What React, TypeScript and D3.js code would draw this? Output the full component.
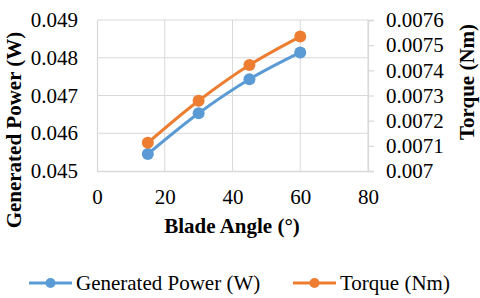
import { useEffect, useRef } from 'react';
import * as d3 from 'd3';

const angles = [15, 30, 45, 60];
const powerValues = [0.04545, 0.04653, 0.04743, 0.04814];
const torqueValues = [0.007112, 0.007279, 0.007421, 0.007534];
const xTicks = [0, 20, 40, 60, 80];
const powerTicks = [0.045, 0.046, 0.047, 0.048, 0.049];
const torqueTicks = [0.007, 0.0071, 0.0072, 0.0073, 0.0074, 0.0075, 0.0076];

const BLUE = '#5B9BD5';
const ORANGE = '#ED7D31';
const GRID = '#D9D9D9';
const FONT = "'Liberation Serif', 'Times New Roman', serif";

const App = () => {
  const ref = useRef<SVGSVGElement | null>(null);

  useEffect(() => {
    const svg = d3.select(ref.current);
    svg.selectAll('*').remove();

    const left = 97, right = 368, top = 20, bottom = 171;

    const x = d3.scaleLinear().domain([0, 80]).range([left, right]);
    const yL = d3.scaleLinear().domain([0.045, 0.049]).range([bottom, top]);
    const yR = d3.scaleLinear().domain([0.007, 0.0076]).range([bottom, top]);

    // gridlines
    svg.append('g')
      .selectAll('line')
      .data(powerTicks.slice(1))
      .enter()
      .append('line')
      .attr('x1', left).attr('x2', right)
      .attr('y1', d => yL(d)).attr('y2', d => yL(d))
      .attr('stroke', GRID).attr('stroke-width', 1);

    svg.append('g')
      .selectAll('line')
      .data(xTicks.slice(1))
      .enter()
      .append('line')
      .attr('x1', d => x(d)).attr('x2', d => x(d))
      .attr('y1', top).attr('y2', bottom)
      .attr('stroke', GRID).attr('stroke-width', 1);

    // left axis
    const gl = svg.append('g')
      .attr('transform', `translate(${left},0)`)
      .call(d3.axisLeft(yL).tickValues(powerTicks).tickSize(0).tickPadding(19).tickFormat(d => String(+d)));

    // right axis
    const gr = svg.append('g')
      .attr('transform', `translate(${right},0)`)
      .call(d3.axisRight(yR).tickValues(torqueTicks).tickSize(6).tickPadding(12).tickFormat(d => String(+(+d).toFixed(4))));

    // bottom axis
    const gb = svg.append('g')
      .attr('transform', `translate(0,${bottom})`)
      .call(d3.axisBottom(x).tickValues(xTicks).tickSize(0).tickPadding(18));

    [gl, gr, gb].forEach(g => {
      g.attr('font-family', null).attr('font-size', null);
      g.selectAll('.domain').attr('stroke', GRID).attr('stroke-width', 1.3);
      g.selectAll('.tick line').attr('stroke', GRID).attr('stroke-width', 1.3);
      g.selectAll('text')
        .style('font-family', FONT)
        .style('font-size', '21px')
        .attr('fill', '#000');
    });

    const line = (vals: number[], y: d3.ScaleLinear<number, number>) =>
      d3.line<number>()
        .x((_, i) => x(angles[i]))
        .y(d => y(d))
        .curve(d3.curveCatmullRom.alpha(0.5))(vals);

    const series = [
      { vals: powerValues, y: yL, color: BLUE },
      { vals: torqueValues, y: yR, color: ORANGE },
    ];

    series.forEach(s => {
      svg.append('path')
        .attr('d', line(s.vals, s.y))
        .attr('fill', 'none')
        .attr('stroke', s.color)
        .attr('stroke-width', 3);
      svg.append('g')
        .selectAll('circle')
        .data(s.vals)
        .enter()
        .append('circle')
        .attr('cx', (_, i) => x(angles[i]))
        .attr('cy', d => s.y(d))
        .attr('r', 6)
        .attr('fill', s.color);
    });

    // axis titles
    const title = (sel: d3.Selection<SVGTextElement, unknown, null, undefined>) =>
      sel.attr('text-anchor', 'middle')
        .style('font-family', FONT)
        .style('font-size', '21px')
        .style('font-weight', 'bold');

    svg.append('text')
      .attr('transform', `translate(21,130) rotate(-90)`)
      .call(title)
      .text('Generated Power (W)');

    svg.append('text')
      .attr('transform', `translate(474,82) rotate(-90)`)
      .call(title)
      .text('Torque (Nm)');

    svg.append('text')
      .attr('x', 232)
      .attr('y', 233)
      .call(title)
      .text('Blade Angle (°)');

    // legend
    const legendItems = [
      { label: 'Generated Power (W)', color: BLUE, x0: 29 },
      { label: 'Torque (Nm)', color: ORANGE, x0: 293 },
    ];
    const lg = svg.append('g')
      .selectAll('g')
      .data(legendItems)
      .enter()
      .append('g')
      .attr('transform', d => `translate(${d.x0},283)`);
    lg.append('line')
      .attr('x1', 0).attr('x2', 43)
      .attr('stroke', d => d.color).attr('stroke-width', 3);
    lg.append('circle')
      .attr('cx', 21.5).attr('r', 5)
      .attr('fill', d => d.color);
    lg.append('text')
      .attr('x', 47)
      .attr('dy', '0.35em')
      .style('font-family', FONT)
      .style('font-size', '21px')
      .text(d => d.label);
  }, []);

  return (
    <svg
      ref={ref}
      width={480}
      height={298}
      style={{ position: 'absolute', left: 0, top: 0, background: '#fff' }}
    />
  );
};

export default App;
